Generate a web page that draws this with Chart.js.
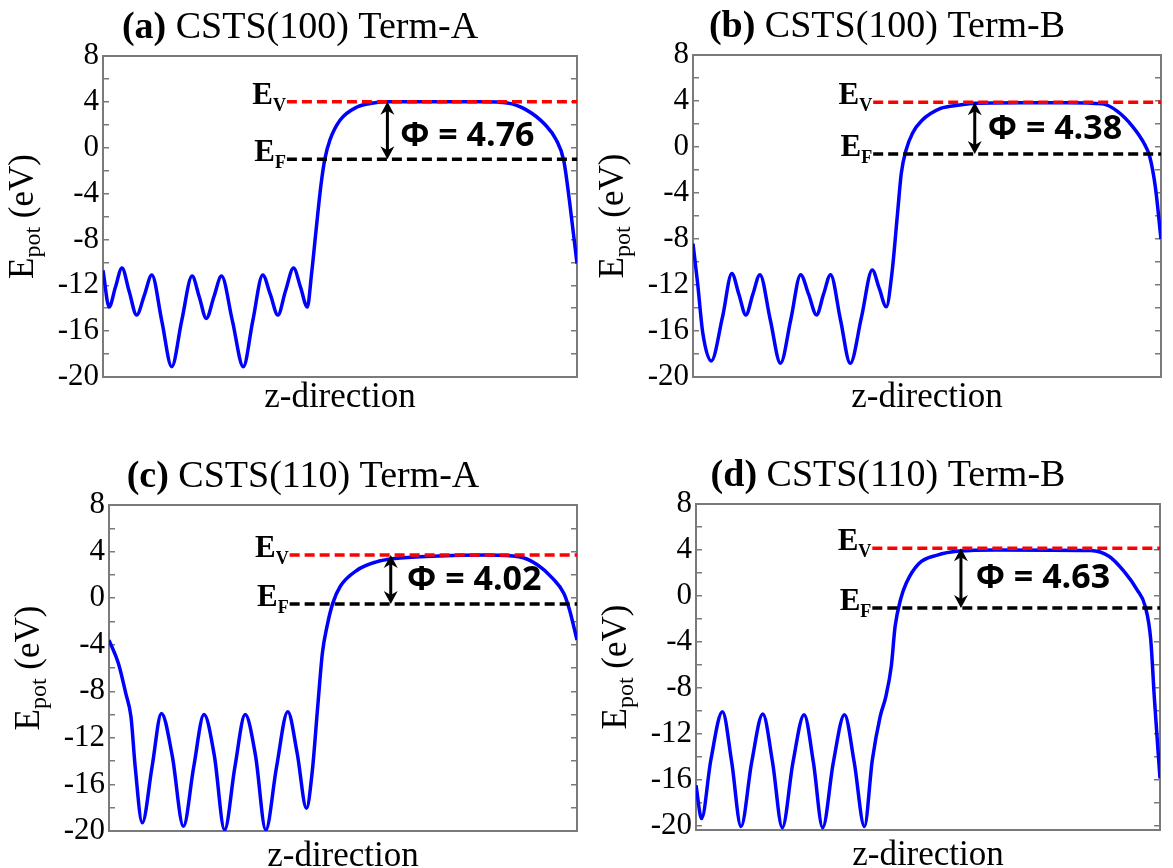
<!DOCTYPE html>
<html>
<head>
<meta charset="utf-8">
<title>CSTS electrostatic potential</title>
<script src="https://cdn.jsdelivr.net/npm/chart.js"></script>
<style>
  html, body { margin: 0; padding: 0; background: #fff; overflow: hidden; }
  #wrap { position: relative; width: 1173px; height: 868px; }
  canvas { position: absolute; }
</style>
</head>
<body>
<div id="wrap">
  <canvas id="panelA" width="586" height="434" style="left:0;top:0"></canvas>
  <canvas id="panelB" width="587" height="434" style="left:586px;top:0"></canvas>
  <canvas id="panelC" width="586" height="434" style="left:0;top:434px"></canvas>
  <canvas id="panelD" width="587" height="434" style="left:586px;top:434px"></canvas>
</div>
<script>
// z-direction is arbitrary, so it is kept as 0..100 across each cell
const zA = [0, 1.3, 2.6, 4.0, 5.5, 7.1, 8.7, 10.3, 12.4, 14.5, 16.6, 18.8, 20.3, 21.8, 23.4, 25.0, 27.3, 29.6, 31.6, 33.7, 35.3, 36.9, 38.5, 40.2, 41.7, 43.1, 44.0, 45.0, 46.0, 46.8, 47.9, 50.0, 53.6, 57.0, 60.0, 70, 80, 85.3, 89.3, 93.3, 95.6, 97.2, 98.4, 100];
const potA = [-10.7, -13.9, -12.2, -10.5, -12.5, -14.6, -12.9, -11.1, -15.1, -19.1, -15.1, -11.2, -13.0, -14.9, -13.0, -11.2, -15.1, -19.1, -15.1, -11.1, -12.8, -14.6, -12.5, -10.5, -12.2, -13.9, -11.0, -7.0, -3.2, -1.0, 0.7, 2.4, 3.55, 3.9, 4.0, 4.0, 4.0, 3.9, 3.3, 2.0, 0.7, -1.1, -4.6, -10.1];

const zB = [0, 1.0, 2.1, 3.9, 6.3, 8.3, 9.8, 11.3, 12.8, 14.3, 16.5, 18.7, 20.9, 23.0, 24.7, 26.4, 27.9, 29.4, 31.5, 33.6, 36.0, 38.3, 39.8, 41.3, 42.5, 43.7, 44.5, 45.5, 46.9, 48.9, 52.9, 57.0, 60.2, 70, 80, 87.5, 90.7, 93.9, 96.4, 97.6, 98.8, 100];
const potB = [-8.4, -11.9, -16.2, -18.6, -14.8, -11.0, -12.8, -14.6, -12.8, -11.1, -15.0, -18.8, -15.0, -11.1, -12.8, -14.6, -12.8, -11.1, -15.0, -18.8, -14.8, -10.7, -12.3, -13.9, -11.0, -5.8, -2.3, -0.3, 1.2, 2.3, 3.35, 3.65, 3.8, 3.85, 3.85, 3.75, 3.1, 1.8, 0.3, -0.85, -3.5, -8.0];

const zC = [0, 2.0, 3.6, 4.7, 5.6, 7.1, 9.2, 11.2, 13.5, 15.9, 18.1, 20.3, 22.5, 24.7, 26.9, 29.1, 31.3, 33.5, 35.8, 38.2, 40.2, 42.2, 43.4, 44.6, 45.6, 46.6, 47.8, 49.4, 53, 57, 61, 69, 81, 87.6, 91.6, 94.8, 97.2, 98.4, 100];
const potC = [-3.6, -5.6, -8.2, -10.2, -14.5, -19.3, -14.5, -9.9, -13.5, -19.6, -14.5, -10.0, -13.5, -19.9, -14.5, -10.0, -13.5, -19.9, -14.5, -9.75, -13.3, -18.05, -15.0, -9.3, -4.7, -2.4, -0.45, 1.0, 2.4, 3.1, 3.4, 3.6, 3.7, 3.55, 2.85, 1.7, 0.4, -1.0, -3.6];

const zD = [0, 1.2, 3.2, 5.7, 7.7, 9.7, 12.0, 14.4, 16.5, 18.6, 20.9, 23.3, 25.3, 27.3, 29.6, 32.0, 34.1, 36.3, 38.0, 39.7, 40.9, 42.1, 42.9, 44.1, 45.3, 48.0, 52.0, 56.7, 64.8, 85.0, 89.0, 92.3, 95.1, 96.8, 98.0, 98.8, 100];
const potD = [-16.5, -19.4, -14.3, -10.1, -14.5, -20.1, -14.5, -10.3, -14.5, -20.2, -14.5, -10.35, -14.5, -20.2, -14.5, -10.35, -14.5, -20.1, -14.3, -10.5, -8.8, -6.1, -2.7, -0.3, 1.1, 2.8, 3.55, 3.9, 4.0, 3.95, 3.45, 2.1, 0.5, -0.9, -3.8, -9.0, -15.9];

const vacuumLevels = [4.0, 3.9, 3.7, 4.15];
const fermiLevels = [-1.0, -0.6, -0.5, -1.05];
const workFunctions = [4.76, 4.38, 4.02, 4.63];

const panelTags = ["(a)", "(b)", "(c)", "(d)"];
const panelTitles = ["CSTS(100) Term-A", "CSTS(100) Term-B", "CSTS(110) Term-A", "CSTS(110) Term-B"];
const yTickLabels = [8, 4, 0, -4, -8, -12, -16, -20];

// where each cell sits in its canvas, and where the level markers go
const panels = [
  { canvas: "panelA", z: zA, pot: potA, plot: [103, 56, 577, 377], dashFrom: 38.8, arrowAt: 60.0, textAt: 62.7, textDy: 6, xTitleGap: 30, yMin: -20, yMax: 8 },
  { canvas: "panelB", z: zB, pot: potB, plot: [107, 55, 575, 377], dashFrom: 38.5, arrowAt: 60.2, textAt: 63.0, textDy: 1, xTitleGap: 30, yMin: -20, yMax: 8 },
  { canvas: "panelC", z: zC, pot: potC, plot: [109, 71, 577, 397], dashFrom: 38.6, arrowAt: 60.2, textAt: 63.7, textDy: 1, xTitleGap: 35, yMin: -20, yMax: 8 },
  { canvas: "panelD", z: zD, pot: potD, plot: [110, 70, 574, 396], dashFrom: 38.0, arrowAt: 57.1, textAt: 60.3, textDy: 0, xTitleGap: 35, yMin: -20.4, yMax: 8 },
];

const serif = '"Liberation Serif", "Times New Roman", serif';
const frameColor = "#7a7a7a";

const decor = {
  id: "decor",
  afterDraw(chart, args, opts) {
    const i = opts.index;
    const p = panels[i];
    const { ctx, chartArea: ca } = chart;
    const xs = chart.scales.x;
    const ys = chart.scales.y;
    ctx.save();
    ctx.fillStyle = "#000";
    ctx.strokeStyle = "#000";
    ctx.textBaseline = "alphabetic";
    ctx.textAlign = "left";

    // title, tag in bold
    const tag = panelTags[i] + " ";
    ctx.font = "bold 38px " + serif;
    const wTag = ctx.measureText(tag).width;
    ctx.font = "38px " + serif;
    const wTitle = ctx.measureText(panelTitles[i]).width;
    const tx = (ca.left + ca.right) / 2 - 40 - (wTag + wTitle) / 2;
    const ty = ca.top - 18;
    ctx.font = "bold 38px " + serif;
    ctx.fillText(tag, tx, ty);
    ctx.font = "38px " + serif;
    ctx.fillText(panelTitles[i], tx + wTag, ty);

    // x axis title
    ctx.font = "35px " + serif;
    ctx.textAlign = "center";
    ctx.fillText("z-direction", (ca.left + ca.right) / 2, ca.bottom + p.xTitleGap);
    ctx.textAlign = "left";

    // y axis title, E_pot (eV)
    ctx.save();
    ctx.translate(ca.left - 70, (ca.top + ca.bottom) / 2);
    ctx.rotate(-Math.PI / 2);
    ctx.font = "35px " + serif;
    const wE = ctx.measureText("E").width;
    const wUnit = ctx.measureText(" (eV)").width;
    ctx.font = "24px " + serif;
    const wPot = ctx.measureText("pot").width;
    const cx = -(wE + wPot + wUnit) / 2;
    ctx.font = "35px " + serif;
    ctx.fillText("E", cx, 0);
    ctx.font = "24px " + serif;
    ctx.fillText("pot", cx + wE, 7);
    ctx.font = "35px " + serif;
    ctx.fillText(" (eV)", cx + wE + wPot, 0);
    ctx.restore();

    // E_V / E_F labels at the start of the dashed lines
    const yEv = ys.getPixelForValue(vacuumLevels[i]);
    const yEf = ys.getPixelForValue(fermiLevels[i]);
    const xEnd = xs.getPixelForValue(p.dashFrom) - 1;
    [[yEv, "V"], [yEf, "F"]].forEach(([yy, sub]) => {
      ctx.font = "bold 18px " + serif;
      const wS = ctx.measureText(sub).width;
      ctx.font = "bold 31px " + serif;
      const wB = ctx.measureText("E").width;
      ctx.fillText("E", xEnd - wS - wB, yy + 2);
      ctx.font = "bold 18px " + serif;
      ctx.fillText(sub, xEnd - wS, yy + 9);
    });

    // double arrow between the two levels
    const ax = xs.getPixelForValue(p.arrowAt);
    ctx.lineWidth = 3;
    ctx.beginPath();
    ctx.moveTo(ax, yEv + 8);
    ctx.lineTo(ax, yEf - 8);
    ctx.stroke();
    const head = (tipY, dir) => {
      ctx.beginPath();
      ctx.moveTo(ax, tipY);
      ctx.lineTo(ax - 7, tipY + dir * 13);
      ctx.lineTo(ax, tipY + dir * 9);
      ctx.lineTo(ax + 7, tipY + dir * 13);
      ctx.closePath();
      ctx.fill();
    };
    head(yEv, 1);
    head(yEf, -1);

    // work function
    ctx.font = 'bold 34px "Open Sans", sans-serif';
    ctx.textBaseline = "middle";
    ctx.fillText("\u03A6 = " + workFunctions[i].toFixed(2), xs.getPixelForValue(p.textAt), (yEv + yEf) / 2 + p.textDy);
    ctx.restore();
  },
};

panels.forEach((p, i) => {
  const el = document.getElementById(p.canvas);
  const [L, T, R, B] = p.plot;
  const W = el.width;
  const H = el.height;
  const curve = p.z.map((z, k) => ({ x: z, y: p.pot[k] }));

  new Chart(el, {
    type: "line",
    data: {
      datasets: [
        {
          data: [{ x: p.dashFrom, y: vacuumLevels[i] }, { x: 100, y: vacuumLevels[i] }],
          borderColor: "#ff0000",
          borderWidth: 3.5,
          borderDash: [10, 5],
          pointRadius: 0,
          order: 0,
        },
        {
          data: [{ x: p.dashFrom, y: fermiLevels[i] }, { x: 100, y: fermiLevels[i] }],
          borderColor: "#000000",
          borderWidth: 3.5,
          borderDash: [10, 5],
          pointRadius: 0,
          order: 0,
        },
        {
          data: curve,
          borderColor: "#0000ff",
          borderWidth: 3.5,
          pointRadius: 0,
          cubicInterpolationMode: "monotone",
          order: 1,
        },
      ],
    },
    options: {
      responsive: false,
      animation: false,
      events: [],
      layout: { autoPadding: false, padding: { top: T, right: W - R, left: 0, bottom: 0 } },
      plugins: {
        legend: { display: false },
        tooltip: { enabled: false },
        decor: { index: i },
      },
      scales: {
        x: {
          type: "linear",
          min: 0,
          max: 100,
          ticks: { display: false },
          grid: { display: false },
          border: { color: frameColor, width: 2 },
          afterFit: (s) => { s.height = H - B; },
        },
        x2: {
          type: "linear",
          position: "top",
          min: 0,
          max: 100,
          ticks: { display: false },
          grid: { display: false },
          border: { color: frameColor, width: 2 },
          afterFit: (s) => { s.height = 0; },
        },
        y: {
          type: "linear",
          min: p.yMin,
          max: p.yMax,
          ticks: {
            stepSize: 2,
            autoSkip: false,
            includeBounds: false,
            padding: 10,
            color: "#000",
            font: { family: "Liberation Serif", size: 31 },
            callback: (v) => (yTickLabels.includes(v) ? String(v) : ""),
          },
          grid: { drawOnChartArea: false, color: frameColor, lineWidth: 1.5, tickLength: -6 },
          border: { color: frameColor, width: 2 },
          afterFit: (s) => { s.width = L; },
        },
        y2: {
          type: "linear",
          position: "right",
          min: p.yMin,
          max: p.yMax,
          ticks: { display: false, stepSize: 2, includeBounds: false },
          grid: { drawOnChartArea: false, color: frameColor, lineWidth: 1.5, tickLength: -6 },
          border: { color: frameColor, width: 2 },
          afterFit: (s) => { s.width = 0; },
        },
      },
    },
    plugins: [decor],
  });
});
</script>
</body>
</html>
